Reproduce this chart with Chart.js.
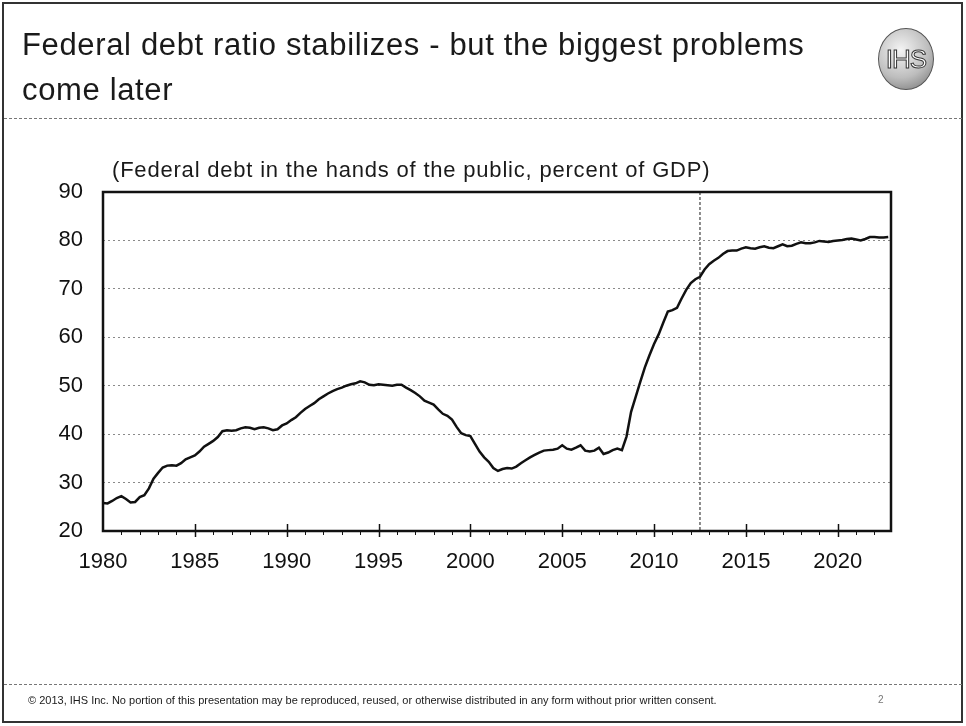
<!DOCTYPE html>
<html lang="en">
<head>
    <meta charset="UTF-8">
    <title>Federal debt ratio</title>
    <script src="https://cdn.jsdelivr.net/npm/chart.js@4.4.1/dist/chart.umd.min.js"></script>
    <style>
        body { margin: 0; background: #fff; font-family: "Liberation Sans", Arial, sans-serif; color: #1a1a1a; }
        #slide { position: relative; width: 966px; height: 726px; overflow: hidden; }
        #debtChart { position: absolute; left: 0; top: 0; }
        .frame { position: absolute; left: 2px; top: 2px; width: 961px; height: 721px; box-sizing: border-box; border: 2px solid #333; }
        .title { position: absolute; left: 22px; top: 22px; margin: 0; font-weight: normal; font-size: 31px; line-height: 45px; letter-spacing: 0.65px; }
        .logo {
            position: absolute; left: 878px; top: 28px; width: 56px; height: 62px; border-radius: 50%;
            background: radial-gradient(circle at 40% 35%, #f4f4f4 0%, #bdbdbd 55%, #6e6e6e 100%);
            border: 1px solid #555; box-sizing: border-box;
            font-size: 26px; line-height: 60px; text-align: center; color: #fff; letter-spacing: -1px;
            -webkit-text-stroke: 1px #333;
        }
        .rule { position: absolute; left: 4px; width: 958px; border-top: 1px dashed #777; }
        .subtitle { position: absolute; left: 112px; top: 159px; font-size: 22px; line-height: 22px; letter-spacing: 0.8px; }
        .footer { position: absolute; left: 28px; top: 695px; font-size: 11px; line-height: 11px; }
        .page { position: absolute; left: 878px; top: 695px; font-size: 10px; line-height: 10px; color: #777; }
    </style>
</head>
<body>
<div id="slide">
    <canvas id="debtChart" width="966" height="726"></canvas>
    <div class="frame"></div>
    <h1 class="title">Federal debt ratio stabilizes - but the biggest problems<br>come later</h1>
    <div class="logo">IHS</div>
    <div class="rule" style="top:118px"></div>
    <div class="subtitle">(Federal debt in the hands of the public, percent of GDP)</div>
    <div class="rule" style="top:684px"></div>
    <div class="footer">© 2013, IHS Inc. No portion of this presentation may be reproduced, reused, or otherwise distributed in any form without prior written consent.</div>
    <div class="page">2</div>
</div>

<script>
    // quarterly series, first point = 1980 Q1
    const startYear = 1980;
    const debtRatio = [
        25.8, 25.7, 26.2, 26.8,   // 1980
        27.2, 26.6, 25.9, 26.0,
        27.0, 27.4, 28.8, 30.8,
        32.0, 33.1, 33.5, 33.6,
        33.5, 34.0, 34.8, 35.2,
        35.6, 36.4, 37.4, 38.0,   // 1985
        38.6, 39.4, 40.6, 40.8,
        40.7, 40.8, 41.2, 41.4,
        41.3, 41.0, 41.3, 41.4,
        41.2, 40.8, 41.0, 41.8,
        42.2, 42.9, 43.5, 44.4,   // 1990
        45.2, 45.8, 46.4, 47.2,
        47.8, 48.4, 48.9, 49.3,
        49.6, 50.0, 50.3, 50.5,
        50.9, 50.7, 50.2, 50.1,
        50.3, 50.2, 50.1, 50.0,   // 1995
        50.2, 50.2, 49.6, 49.1,
        48.5, 47.8, 46.9, 46.5,
        46.1, 45.1, 44.2, 43.8,
        43.0, 41.5, 40.2, 39.8,
        39.6, 38.0, 36.4, 35.2,   // 2000
        34.3, 33.0, 32.4, 32.8,
        33.0, 32.9, 33.3, 34.0,
        34.6, 35.2, 35.7, 36.2,
        36.6, 36.7, 36.8, 37.0,
        37.7, 37.0, 36.8, 37.2,   // 2005
        37.7, 36.6, 36.4, 36.6,
        37.2, 35.9, 36.2, 36.7,
        37.0, 36.7, 39.5, 44.6,
        47.7, 50.8, 53.8, 56.3,
        58.6, 60.6, 63.0, 65.3,   // 2010
        65.6, 66.1, 68.0, 69.8,
        71.2, 72.0, 72.5, 74.0,
        75.1, 75.8, 76.4, 77.2,
        77.8, 77.9, 77.9, 78.3,
        78.6, 78.4, 78.3, 78.6,   // 2015
        78.8, 78.5, 78.4, 78.8,
        79.2, 78.8, 78.9, 79.3,
        79.6, 79.4, 79.4, 79.6,
        79.9, 79.8, 79.7, 79.9,
        80.0, 80.1, 80.3, 80.4,   // 2020
        80.2, 80.0, 80.3, 80.7,
        80.7, 80.6, 80.6, 80.7
    ];
    const xLabelYears = [1980, 1985, 1990, 1995, 2000, 2005, 2010, 2015, 2020];
    const yTickValues = [20, 30, 40, 50, 60, 70, 80, 90];
    const forecastStart = 2012.5;

    const points = debtRatio.map((v, i) => ({ x: startYear + i / 4, y: v }));

    // frame, year ticks and the forecast divider
    const slideDecor = {
        id: 'slideDecor',
        beforeDatasetsDraw(chart) {
            const { ctx, chartArea: a, scales: { x } } = chart;
            const px = x.getPixelForValue(forecastStart);
            ctx.save();
            ctx.strokeStyle = '#666';
            ctx.lineWidth = 1.5;
            ctx.setLineDash([3, 2]);
            ctx.beginPath();
            ctx.moveTo(px, a.top);
            ctx.lineTo(px, a.bottom);
            ctx.stroke();
            ctx.restore();
        },
        afterDatasetsDraw(chart) {
            const { ctx, chartArea: a, scales: { x } } = chart;
            ctx.save();
            ctx.strokeStyle = '#111';
            for (let yr = 1981; yr <= 2022; yr++) {
                const px = Math.round(x.getPixelForValue(yr)) + 0.5;
                ctx.beginPath();
                if (yr % 5 === 0) {
                    ctx.lineWidth = 1.5;
                    ctx.moveTo(px, a.bottom - 7);
                    ctx.lineTo(px, a.bottom + 6);
                } else {
                    ctx.lineWidth = 1;
                    ctx.moveTo(px, a.bottom);
                    ctx.lineTo(px, a.bottom + 4);
                }
                ctx.stroke();
            }
            ctx.lineWidth = 2.5;
            ctx.strokeRect(a.left, a.top, a.right - a.left, a.bottom - a.top);
            ctx.restore();
        }
    };

    Chart.defaults.font.family = '"Liberation Sans", Arial, sans-serif';
    Chart.defaults.font.size = 22;
    Chart.defaults.color = '#111';

    new Chart(document.getElementById('debtChart'), {
        type: 'line',
        data: {
            datasets: [{
                data: points,
                borderColor: '#111',
                borderWidth: 2.5,
                pointRadius: 0,
                tension: 0,
                fill: false
            }]
        },
        options: {
            responsive: false,
            animation: false,
            layout: { padding: { top: 192, right: 75, bottom: 155, left: 0 } },
            plugins: { legend: { display: false }, tooltip: { enabled: false } },
            scales: {
                x: {
                    type: 'linear',
                    min: 1980,
                    max: 2022.9,
                    afterFit: s => { s.height = 40; },
                    afterBuildTicks: s => { s.ticks = xLabelYears.map(v => ({ value: v })); },
                    ticks: { padding: 10, maxRotation: 0, autoSkip: false, callback: v => String(v) },
                    grid: { display: false },
                    border: { display: false }
                },
                y: {
                    min: 20,
                    max: 90,
                    afterFit: s => { s.width = 103; },
                    afterBuildTicks: s => { s.ticks = yTickValues.map(v => ({ value: v })); },
                    ticks: { padding: 20, callback: v => String(v) },
                    grid: { color: '#8a8a8a', lineWidth: 1, drawTicks: false },
                    border: { display: false, dash: [2, 3] }
                }
            }
        },
        plugins: [slideDecor]
    });
</script>
</body>
</html>
